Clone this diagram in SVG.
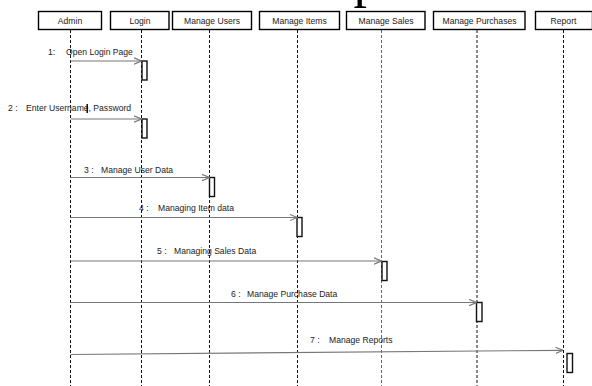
<svg xmlns="http://www.w3.org/2000/svg" width="592" height="386" viewBox="0 0 592 386">
<defs>
<style>
.box{fill:#fff;stroke:#000;stroke-width:1.4}
.hdr{font-family:"Liberation Sans",Arial,sans-serif;font-size:8.6px;fill:#222;text-anchor:middle}
.life{stroke:#111;stroke-width:1;stroke-dasharray:3,2;fill:none}
.act{fill:#fff;stroke:#111;stroke-width:1.4}
.msg{stroke:#777;stroke-width:1.2;fill:none;marker-end:url(#ah)}
.lbl{font-family:"Liberation Sans",Arial,sans-serif;font-size:8.6px;fill:#222}
</style>
<marker id="ah" viewBox="0 0 8 8" refX="7.5" refY="4" markerWidth="8" markerHeight="8" markerUnits="userSpaceOnUse" orient="auto">
<path d="M0,0.8 L7.5,4 L0,7.2" fill="none" stroke="#777" stroke-width="1.1"/>
</marker>
</defs>
<rect width="592" height="386" fill="#fff"/>
<text x="367" y="-4" font-family="Liberation Serif,serif" font-size="54" text-anchor="middle" fill="#000">p</text>

<g id="lifelines">
<line class="life" x1="70.5" y1="30" x2="70.5" y2="386"/>
<line class="life" x1="141.5" y1="30" x2="141.5" y2="386"/>
<line class="life" x1="209.5" y1="30" x2="209.5" y2="386"/>
<line class="life" x1="297.5" y1="30" x2="297.5" y2="386"/>
<line class="life" x1="381.5" y1="30" x2="381.5" y2="386" style="stroke:#666"/>
<line class="life" x1="477" y1="30" x2="477" y2="386"/>
<line class="life" x1="563.5" y1="30" x2="563.5" y2="386"/>
</g>

<g id="admin"><rect class="box" x="38.5" y="11.5" width="63" height="18"/><text class="hdr" x="70" y="23.5">Admin</text></g>
<g id="login"><rect class="box" x="110.5" y="11.5" width="58.5" height="18"/><text class="hdr" x="140" y="23.5">Login</text></g>
<g id="manage-users"><rect class="box" x="172.5" y="11.5" width="79" height="18"/><text class="hdr" x="212" y="23.5">Manage Users</text></g>
<g id="manage-items"><rect class="box" x="259.5" y="11.5" width="80" height="18"/><text class="hdr" x="299.5" y="23.5">Manage Items</text></g>
<g id="manage-sales"><rect class="box" x="346.5" y="11.5" width="78.5" height="18"/><text class="hdr" x="386" y="23.5">Manage Sales</text></g>
<g id="manage-purchases"><rect class="box" x="433.5" y="11.5" width="91.5" height="18"/><text class="hdr" x="479.5" y="23.5">Manage Purchases</text></g>
<g id="report"><rect class="box" x="535.5" y="11.5" width="57" height="18"/><text class="hdr" x="563.5" y="23.5">Report</text></g>

<g id="activations">
<rect class="act" x="142" y="61" width="5" height="19"/>
<rect class="act" x="142" y="119" width="5" height="19"/>
<rect class="act" x="209.5" y="177.5" width="5" height="19"/>
<rect class="act" x="297" y="217.5" width="5" height="19"/>
<rect class="act" x="382" y="261.5" width="5" height="19"/>
<rect class="act" x="476.5" y="302.5" width="5.5" height="19"/>
<rect class="act" x="567" y="353.5" width="5.5" height="19"/>
</g>

<g id="connectors">
<line class="msg" x1="70.5" y1="61" x2="141.5" y2="61"/>
<line class="msg" x1="70.5" y1="119" x2="141.5" y2="119"/>
<line class="msg" x1="70.5" y1="177.5" x2="209.5" y2="177.5"/>
<line class="msg" x1="70.5" y1="217.5" x2="297" y2="217.5"/>
<line class="msg" x1="70.5" y1="261" x2="381.5" y2="261"/>
<line class="msg" x1="70.5" y1="302.5" x2="476.5" y2="302.5"/>
<line class="msg" x1="70.5" y1="354.5" x2="563" y2="350.3"/>
</g>

<g id="labels">
<text class="lbl" y="55"><tspan x="48">1:</tspan><tspan x="66">Open Login Page</tspan></text>
<text class="lbl" y="111"><tspan x="8">2 :</tspan><tspan x="26">Enter Username, Password</tspan></text>
<rect x="86.5" y="104" width="1.4" height="9" fill="#000"/>
<text class="lbl" y="173"><tspan x="84">3 :</tspan><tspan x="101">Manage User Data</tspan></text>
<text class="lbl" y="211"><tspan x="139">4 :</tspan><tspan x="158">Managing Item data</tspan></text>
<text class="lbl" y="254"><tspan x="157">5 :</tspan><tspan x="174">Managing Sales Data</tspan></text>
<text class="lbl" y="297"><tspan x="231">6 :</tspan><tspan x="247">Manage Purchase Data</tspan></text>
<text class="lbl" y="343"><tspan x="310">7 :</tspan><tspan x="329">Manage Reports</tspan></text>
</g>
</svg>
